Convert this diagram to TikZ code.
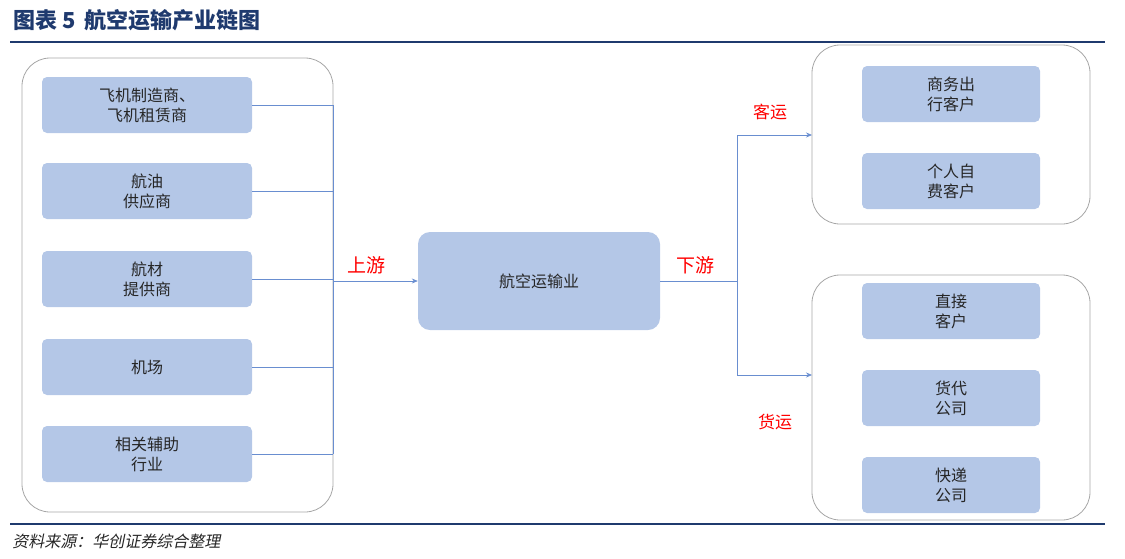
\documentclass[tikz,border=0pt]{standalone}
\usepackage{fontspec}
\newfontfamily\cjk{Noto Sans CJK SC}
\usetikzlibrary{arrows.meta}
\definecolor{boxfill}{HTML}{B4C7E7}
\definecolor{linec}{HTML}{4472C4}
\definecolor{titleblue}{HTML}{1F3A6E}
\definecolor{redt}{HTML}{FF0000}
\tikzset{
 container/.style={draw=gray!70,line width=0.8pt,rounded corners=28pt},
 item/.style={fill=boxfill,draw=none,rounded corners=5pt,minimum width=210pt,minimum height=56pt,align=center,font=\cjk\fontsize{16}{20}\selectfont,text=black!85},
 ritem/.style={item,minimum width=178pt},
 conn/.style={draw=linec!80,line width=0.7pt},
 arr/.style={conn,-{Stealth[length=6pt,width=5pt]}},
 lab/.style={text=redt,font=\cjk\fontsize{19}{22}\selectfont}
}
\begin{document}
\begin{tikzpicture}[x=1pt,y=-1pt]
\useasboundingbox (0,0) rectangle (1125,558);
\node[anchor=west,text=titleblue,font=\cjk\bfseries\fontsize{22}{25}\selectfont] (title) at (10,20) {图表 5\, 航空运输产业链图};
\draw[titleblue,line width=2pt] (10,42) -- (1105,42);
\draw[titleblue,line width=2pt] (10,524) -- (1105,524);
\node[anchor=west,text=black!85,font=\cjk\itshape\fontsize{16}{18}\selectfont,xslant=0.2] (src) at (10,541) {资料来源：华创证券综合整理};
\draw[container] (22,58) rectangle (333,512);
\draw[container] (812,45) rectangle (1090,224);
\draw[container] (812,275) rectangle (1090,520);
\node[item] (l1) at (147,105) {飞机制造商、\\飞机租赁商};
\node[item] (l2) at (147,191) {航油\\供应商};
\node[item] (l3) at (147,279) {航材\\提供商};
\node[item] (l4) at (147,367) {机场};
\node[item] (l5) at (147,454) {相关辅助\\行业};
\node[item,minimum width=242pt,minimum height=98pt,rounded corners=12pt] (c) at (539,281) {航空运输业};
\node[ritem] (r1) at (951,94) {商务出\\行客户};
\node[ritem] (r2) at (951,181) {个人自\\费客户};
\node[ritem] (r3) at (951,311) {直接\\客户};
\node[ritem] (r4) at (951,398) {货代\\公司};
\node[ritem] (r5) at (951,485) {快递\\公司};
\coordinate (vt) at (333,105);
\coordinate (vb) at (333,454);
\coordinate (vm) at (333,281);
\foreach \n in {l1,l2,l3,l4,l5} \draw[conn] (\n.east) -- (\n.east -| vt);
\draw[conn] (vt) -- (vb);
\draw[arr] (vm) -- (c.west);
\coordinate (dj) at (737,281);
\coordinate (dt) at (737,135);
\coordinate (db) at (737,375);
\coordinate (ct) at (812,135);
\coordinate (cb) at (812,375);
\draw[conn] (c.east) -- (dj);
\draw[conn] (dt) -- (db);
\draw[arr] (dt) -- (ct);
\draw[arr] (db) -- (cb);
\node[lab] (up) at (366,265) {上游};
\node[lab] (down) at (695,265) {下游};
\node[lab,font=\cjk\fontsize{17}{20}\selectfont] (kp) at (770,112) {客运};
\node[lab,font=\cjk\fontsize{17}{20}\selectfont] (hy) at (775,422) {货运};
\end{tikzpicture}
\end{document}
